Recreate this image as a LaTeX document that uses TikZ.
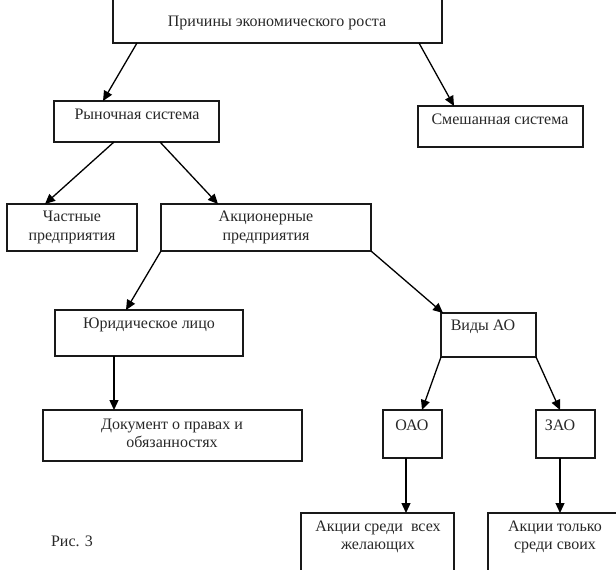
\documentclass[tikz,border=0pt]{standalone}
\usepackage{fontspec}
\setmainfont{Liberation Serif}
\usetikzlibrary{arrows.meta,calc}
\definecolor{txtc}{RGB}{40,40,40}
\definecolor{linec}{RGB}{25,25,25}
\begin{document}
\begin{tikzpicture}[x=1pt,y=-1pt,
  box/.style={draw=linec, line width=1.5pt, rectangle, inner sep=0pt, outer sep=0pt, anchor=north west},
  txt/.style={text=txtc, font=\fontsize{16}{18.5}\selectfont, align=center, inner sep=0pt},
  arr/.style={draw=black, line width=1.3pt, -{Triangle[length=10pt,width=9pt]}}]
\clip (0,0) rectangle (616,570);
\fill[white] (0,0) rectangle (616,570);
% boxes
\node[box, minimum width=329pt, minimum height=63pt] (top) at (113,-20) {};
\node[box, minimum width=165pt, minimum height=41pt] (r) at (54,101) {};
\node[box, minimum width=165pt, minimum height=41pt] (m) at (418,106) {};
\node[box, minimum width=130pt, minimum height=47pt] (ch) at (7,204) {};
\node[box, minimum width=210pt, minimum height=47pt] (ak) at (161,204) {};
\node[box, minimum width=188pt, minimum height=46pt] (yu) at (55,310) {};
\node[box, minimum width=95pt, minimum height=44pt] (vid) at (441,313) {};
\node[box, minimum width=259pt, minimum height=51pt] (doc) at (43,410) {};
\node[box, minimum width=59pt, minimum height=48pt] (oao) at (383,410) {};
\node[box, minimum width=59pt, minimum height=48pt] (zao) at (536,410) {};
\node[box, minimum width=153pt, minimum height=80pt] (a1) at (301,513) {};
\node[box, minimum width=150pt, minimum height=80pt] (a2) at (488,513) {};
% texts
\node[txt] (ttop) at (277,23) {Причины экономического роста};
\node[txt] (tr) at (137,114) {Рыночная система};
\node[txt] (tm) at (500,119) {Смешанная система};
\node[txt] (tch) at (72,227.5) {Частные\\предприятия};
\node[txt] (tak) at (266,227.5) {Акционерные\\предприятия};
\node[txt] (tyu) at (149,325) {Юридическое лицо};
\node[txt] (tvid) at (483,327) {Виды АО};
\node[txt] (tdoc) at (172,433.5) {Документ о правах и\\обязанностях};
\node[txt] (toao) at (412,425) {ОАО};
\node[txt] (tzao) at (560,425) {ЗАО};
\node[txt] (ta1) at (378,537) {Акции среди\ \ всех\\желающих};
\node[txt] (ta2) at (555,537) {Акции только\\среди своих};
\node[txt] (fig) at (72,541) {Рис. 3};
% connectors
\draw[arr] ($(top.south west)+(24,0)$) -- ($(r.north west)+(49,0)$);
\draw[arr] ($(top.south east)+(-23,0)$) -- ($(m.north west)+(36,0)$);
\draw[arr] ($(r.south west)+(60,0)$) -- ($(ch.north west)+(38,0)$);
\draw[arr] ($(r.south west)+(106,0)$) -- ($(ak.north west)+(57,0)$);
\draw[arr] (ak.south west) -- ($(yu.north west)+(71,0)$);
\draw[arr] (ak.south east) -- ($(vid.north west)+(2,0)$);
\draw[arr] ($(yu.south west)+(59,0)$) -- ($(doc.north west)+(71,0)$);
\draw[arr] (vid.south west) -- ($(oao.north west)+(39,0)$);
\draw[arr] (vid.south east) -- ($(zao.north west)+(24,0)$);
\draw[arr] ($(oao.south west)+(23,0)$) -- ($(a1.north west)+(105,0)$);
\draw[arr] ($(zao.south west)+(24,0)$) -- ($(a2.north west)+(72,0)$);
\end{tikzpicture}
\end{document}
